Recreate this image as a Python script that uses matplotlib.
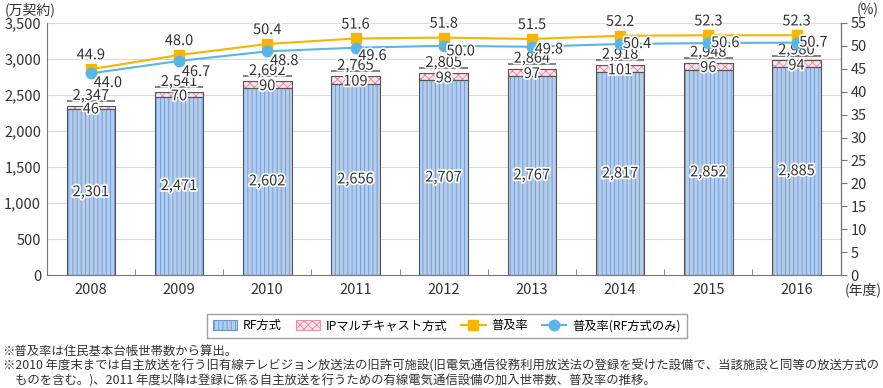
import matplotlib.pyplot as plt
import matplotlib.patheffects as pe
from matplotlib.patches import Patch
from matplotlib.lines import Line2D
import numpy as np

plt.rcParams['font.family'] = ['Noto Sans CJK JP', 'DejaVu Sans']
plt.rcParams['hatch.linewidth'] = 0.6

years = ['2008', '2009', '2010', '2011', '2012', '2013', '2014', '2015', '2016']
rf = [2301, 2471, 2602, 2656, 2707, 2767, 2817, 2852, 2885]
ip = [46, 70, 90, 109, 98, 97, 101, 96, 94]
total = [2347, 2541, 2692, 2765, 2805, 2864, 2918, 2948, 2980]
rate = [44.9, 48.0, 50.4, 51.6, 51.8, 51.5, 52.2, 52.3, 52.3]
rate_rf = [44.0, 46.7, 48.8, 49.6, 50.0, 49.8, 50.4, 50.6, 50.7]

c_rf = '#b3cdee'
c_ip = '#fbe3ea'
c_orange = '#f7b500'
c_blue = '#58b6e8'
tc = '#333333'

fig = plt.figure(figsize=(8.83, 3.88), dpi=100)
ax = fig.add_axes([0.053, 0.291, 0.899, 0.65])
ax2 = ax.twinx()

x = np.arange(len(years))
w = 0.55
ax.bar(x, rf, w, color=c_rf, edgecolor='#6f96cc', hatch='||||', linewidth=0, zorder=2)
ax.bar(x, rf, w, color='none', edgecolor='#555555', linewidth=0.8, zorder=3)
ax.bar(x, ip, w, bottom=rf, color=c_ip, edgecolor='#e8849e', hatch='xxxx', linewidth=0, zorder=2)
ax.bar(x, ip, w, bottom=rf, color='none', edgecolor='#555555', linewidth=0.8, zorder=3)
ax.hlines([t + 65 for t in total], x - w / 2, x + w / 2, color='#777777', lw=1.3, zorder=3)

stroke = [pe.withStroke(linewidth=2.5, foreground='white')]
for i in x:
    ax.text(i, rf[i] / 2, f'{rf[i]:,}', ha='center', va='center', fontsize=10.5, color=tc,
            path_effects=stroke, zorder=5)
    ax.text(i, rf[i] + ip[i] / 2 - 25, f'{ip[i]}', ha='center', va='center', fontsize=10.5, color=tc,
            path_effects=stroke, zorder=5)
    ax.text(i, total[i] + 140, f'{total[i]:,}', ha='center', va='center', fontsize=10.5, color=tc,
            path_effects=stroke, zorder=5)

ax.set_ylim(0, 3500)
ax.set_yticks(range(0, 3501, 500))
ax.set_yticklabels([f'{v:,}' for v in range(0, 3501, 500)], fontsize=10.5, color=tc)
ax.set_xlim(-0.5, len(years) - 0.5)
ax.set_xticks(x)
ax.set_xticklabels(years, fontsize=10.5, color=tc)
ax.set_xticks(np.arange(0.5, len(years) - 1, 1), minor=True)
ax.tick_params(axis='x', which='major', length=0, pad=6)
ax.tick_params(axis='x', which='minor', direction='in', length=4, color='#777777')
ax.tick_params(axis='y', length=0, pad=4)
ax.grid(axis='y', color='#d9d9d9', lw=0.8, zorder=0)
ax.set_axisbelow(True)
ax.spines['top'].set_visible(False)
ax2.spines['top'].set_visible(False)
ax.spines['left'].set_color('#777777')
ax.spines['bottom'].set_color('#777777')
ax2.spines['right'].set_color('#777777')
ax2.spines['left'].set_visible(False)
ax2.spines['bottom'].set_visible(False)

ax2.plot(x, rate, color=c_orange, lw=1.5, marker='s', ms=6.5, zorder=4)
ax2.plot(x, rate_rf, color=c_blue, lw=1.5, marker='o', ms=7.5, zorder=4)
ax2.set_ylim(0, 55)
ax2.set_yticks(range(0, 56, 5))
ax2.set_yticklabels([str(v) for v in range(0, 56, 5)], fontsize=10.5, color=tc)
ax2.tick_params(axis='y', direction='out', length=4, color='#777777', pad=3)

# label offsets for the blue line (points): below-right early, right later
blue_dy = [-7, -8, -7, -6, -4, -2, 0, 0, 0]
for i in x:
    ax2.annotate(f'{rate[i]:.1f}', (i, rate[i]), xytext=(0, 10), textcoords='offset points',
                 ha='center', va='center', fontsize=10.5, color=tc, path_effects=stroke, zorder=6)
    ax2.annotate(f'{rate_rf[i]:.1f}', (i, rate_rf[i]), xytext=(2, blue_dy[i]), textcoords='offset points',
                 ha='left', va='center', fontsize=10.5, color=tc, path_effects=stroke, zorder=6)

fig.text(0.005, 0.955, '(万契約)', fontsize=10, color=tc, ha='left', va='bottom')
fig.text(0.995, 0.955, '(%)', fontsize=10, color=tc, ha='right', va='bottom')
fig.text(0.957, 0.252, '(年度)', fontsize=10, color=tc, ha='left', va='center')

handles = [
    Patch(facecolor=c_rf, edgecolor='#6f96cc', hatch='||||', lw=0.8),
    Patch(facecolor=c_ip, edgecolor='#e8849e', hatch='xxxx', lw=0.6),
    Line2D([0], [0], color=c_orange, lw=1.5, marker='s', ms=6.5),
    Line2D([0], [0], color=c_blue, lw=1.5, marker='o', ms=7.5),
]
labels = ['RF方式', 'IPマルチキャスト方式', '普及率', '普及率(RF方式のみ)']
leg = fig.legend(handles, labels, loc='center', bbox_to_anchor=(0.506, 0.16), ncol=4, fontsize=8.8,
                 frameon=True, fancybox=False, edgecolor='#888888', handlelength=2.0, handleheight=0.8,
                 columnspacing=1.1, borderpad=0.45, handletextpad=0.5)
leg.get_frame().set_linewidth(1)

fig.text(0.003, 0.095, '※普及率は住民基本台帳世帯数から算出。', fontsize=8.9, color=tc, va='center')
fig.text(0.003, 0.057, '※2010 年度末までは自主放送を行う旧有線テレビジョン放送法の旧許可施設(旧電気通信役務利用放送法の登録を受けた設備で、当該施設と同等の放送方式の',
         fontsize=8.9, color=tc, va='center')
fig.text(0.017, 0.018, 'ものを含む。)、2011 年度以降は登録に係る自主放送を行うための有線電気通信設備の加入世帯数、普及率の推移。',
         fontsize=8.9, color=tc, va='center')

fig.savefig('out.png', dpi=100)
